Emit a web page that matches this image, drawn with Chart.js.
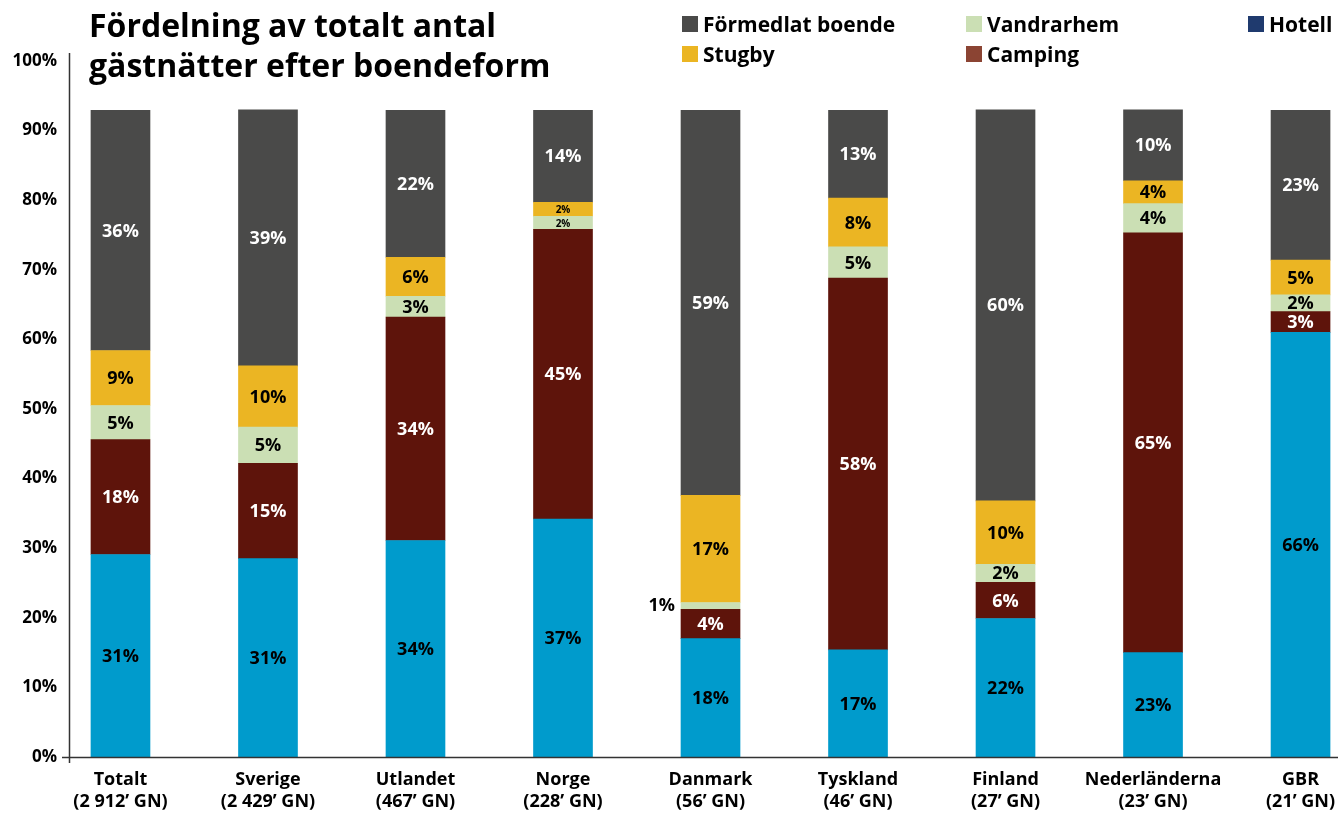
<!DOCTYPE html>
<html>
<head>
<meta charset="utf-8">
<script src="https://cdn.jsdelivr.net/npm/chart.js@4.4.0/dist/chart.umd.min.js"></script>
<style>
  body { margin: 0; background: #fff; font-family: "Open Sans", sans-serif; }
  #wrap { position: relative; width: 1338px; height: 816px; }
  #titel { position: absolute; left: 89px; top: 5px; font-weight: 700; font-size: 32px; line-height: 40px; color: #000; }
  #legend { position: absolute; left: 682px; top: 12px; display: grid; grid-template-columns: 284px 282px auto; row-gap: 6px; }
  .item { display: flex; align-items: center; font-weight: 700; font-size: 21px; height: 24px; color: #000; }
  .box { width: 16px; height: 16px; margin-right: 5px; }
</style>
</head>
<body>
<div id="wrap">
  <canvas id="myChart" width="1338" height="816"></canvas>
  <div id="titel">Fördelning av totalt antal<br>gästnätter efter boendeform</div>
  <div id="legend"></div>
</div>
<script>
// kategorier (x-axeln)
var kategorier = [
  ['Totalt', '(2 912’ GN)'],
  ['Sverige', '(2 429’ GN)'],
  ['Utlandet', '(467’ GN)'],
  ['Norge', '(228’ GN)'],
  ['Danmark', '(56’ GN)'],
  ['Tyskland', '(46’ GN)'],
  ['Finland', '(27’ GN)'],
  ['Nederländerna', '(23’ GN)'],
  ['GBR', '(21’ GN)']
];

// stapelhöjder avlästa mot y-axeln (%)
var hotell     = [29.1, 28.5, 31.1, 34.2, 17.0, 15.4, 19.9, 15.0, 61.0];
var camping    = [16.5, 13.7, 32.1, 41.6, 4.2, 53.4, 5.2, 60.3, 3.0];
var vandrarhem = [4.9, 5.2, 3.0, 1.9, 1.0, 4.5, 2.6, 4.2, 2.4];
var stugby     = [7.9, 8.8, 5.6, 2.0, 15.4, 7.0, 9.1, 3.3, 5.0];
var formedlat  = [34.5, 36.8, 21.1, 13.2, 55.3, 12.6, 56.2, 10.2, 21.5];

// utskrivna procentsatser
var hotellTxt     = [31, 31, 34, 37, 18, 17, 22, 23, 66];
var campingTxt    = [18, 15, 34, 45, 4, 58, 6, 65, 3];
var vandrarhemTxt = [5, 5, 3, 2, 1, 5, 2, 4, 2];
var stugbyTxt     = [9, 10, 6, 2, 17, 8, 10, 4, 5];
var formedlatTxt  = [36, 39, 22, 14, 59, 13, 60, 10, 23];

// y-axelns steg
var yTicks = [0, 10, 20, 30, 40, 50, 60, 70, 80, 90, 100];

var serier = [
  { namn: 'Hotell', data: hotell, txt: hotellTxt, farg: '#009bcc', legendFarg: '#1f3a6e', textFarg: '#000' },
  { namn: 'Camping', data: camping, txt: campingTxt, farg: '#5e140b', legendFarg: '#8b4433', textFarg: '#fff' },
  { namn: 'Vandrarhem', data: vandrarhem, txt: vandrarhemTxt, farg: '#cbdfb4', legendFarg: '#cbdfb4', textFarg: '#000' },
  { namn: 'Stugby', data: stugby, txt: stugbyTxt, farg: '#ebb523', legendFarg: '#ebb523', textFarg: '#000' },
  { namn: 'Förmedlat boende', data: formedlat, txt: formedlatTxt, farg: '#4a4a49', legendFarg: '#4a4a49', textFarg: '#fff' }
];
var legendOrdning = ['Förmedlat boende', 'Vandrarhem', 'Hotell', 'Stugby', 'Camping'];

var datasets = serier.map(function(s) {
  return {
    label: s.namn,
    data: s.data.map(function(v, i) { return { x: i, y: v }; }),
    backgroundColor: s.farg,
    borderWidth: 0,
    barThickness: 59
  };
});

var etiketter = {
  id: 'etiketter',
  afterDatasetsDraw: function(chart) {
    var ctx = chart.ctx;
    chart.data.datasets.forEach(function(ds, d) {
      var meta = chart.getDatasetMeta(d);
      meta.data.forEach(function(bar, i) {
        var p = bar.getProps(['x', 'y', 'base', 'width'], true);
        var h = Math.abs(p.base - p.y);
        var cy = (p.y + p.base) / 2;
        var txt = serier[d].txt[i] + '%';
        ctx.save();
        ctx.textBaseline = 'middle';
        if (h < 10) {
          ctx.font = 'bold 18px "Open Sans"';
          ctx.fillStyle = '#000';
          ctx.textAlign = 'right';
          ctx.fillText(txt, p.x - p.width / 2 - 6, cy);
        } else {
          ctx.font = 'bold ' + (h < 15 ? 10 : 18) + 'px "Open Sans"';
          ctx.fillStyle = serier[d].textFarg;
          ctx.textAlign = 'center';
          ctx.fillText(txt, p.x, cy + 1);
        }
        ctx.restore();
      });
    });
    // axellinjer
    var a = chart.chartArea;
    ctx.save();
    ctx.strokeStyle = '#333';
    ctx.lineWidth = 1.5;
    ctx.beginPath();
    ctx.moveTo(a.left + 0.5, a.top - 8);
    ctx.lineTo(a.left + 0.5, a.bottom + 6);
    ctx.moveTo(a.left - 7, a.bottom + 0.5);
    ctx.lineTo(a.right, a.bottom + 0.5);
    ctx.stroke();
    ctx.restore();
  }
};

var ctx = document.getElementById('myChart').getContext('2d');
var chart = new Chart(ctx, {
  type: 'bar',
  data: { datasets: datasets },
  plugins: [etiketter],
  options: {
    responsive: false,
    devicePixelRatio: 1,
    animation: false,
    layout: { padding: { top: 61, right: 0, left: 0, bottom: 0 } },
    plugins: { legend: { display: false }, tooltip: { enabled: false } },
    scales: {
      x: {
        type: 'linear',
        stacked: true,
        offset: false,
        min: -0.349,
        max: 8.254,
        grid: { display: false, drawTicks: false },
        border: { display: false },
        afterFit: function(s) { s.height = 59; s.paddingLeft = 0; s.paddingRight = 0; },
        afterBuildTicks: function(s) {
          s.ticks = kategorier.map(function(k, i) { return { value: i }; });
        },
        ticks: {
          autoSkip: false,
          maxRotation: 0,
          padding: 12,
          color: '#000',
          font: { family: 'Open Sans', weight: 'bold', size: 18, lineHeight: 1.2 },
          callback: function(v) { return kategorier[v] || ''; }
        }
      },
      y: {
        stacked: true,
        min: 0,
        max: 100,
        grid: { display: false, drawTicks: false },
        border: { display: false },
        afterFit: function(s) { s.width = 69; },
        afterBuildTicks: function(s) {
          s.ticks = yTicks.map(function(v) { return { value: v }; });
        },
        ticks: {
          padding: 12,
          color: '#000',
          font: { family: 'Open Sans', weight: 'bold', size: 17 },
          callback: function(v) { return v + '%'; }
        }
      }
    }
  }
});

// förklaring
var legend = document.getElementById('legend');
legendOrdning.forEach(function(namn) {
  var s = serier.filter(function(x) { return x.namn === namn; })[0];
  var el = document.createElement('div');
  el.className = 'item';
  el.innerHTML = '<span class="box" style="background:' + s.legendFarg + '"></span>' + s.namn;
  legend.appendChild(el);
});
</script>
</body>
</html>
